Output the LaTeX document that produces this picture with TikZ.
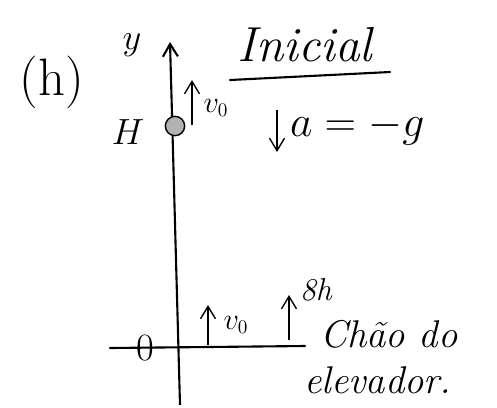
\documentclass[tikz,border=0pt]{standalone}
\usepackage{tikz}
\usetikzlibrary{arrows.meta,positioning,shapes.geometric}

\begin{document}
\begin{tikzpicture}[
  x=0.02cm,y=-0.02cm,
  hand/.style={font=\fontsize{20}{22}\selectfont\itshape,inner sep=1pt},
  big/.style={font=\fontsize{28}{30}\selectfont\itshape,inner sep=1pt},
  arrow/.style={-{Straight Barb[length=2.5mm,width=3mm]},thick},
  line/.style={thick,line cap=round}
]
\useasboundingbox (0,0) rectangle (497,407);
% axes
\coordinate (ybot) at (180,405);
\coordinate (ytop) at (170,42);
\draw[arrow,line width=1.2pt] (ybot)--(ytop);
\coordinate (xleft) at (110,348);
\coordinate (xright) at (305,346);
\draw[line,line width=1.2pt] (xleft)--(xright);
\node[hand,font=\fontsize{22}{22}\selectfont] (orig) at (145,348) {0};
\node[hand] (ylab) at (132,45) {$y$};
\node[big,font=\fontsize{30}{32}\selectfont] (part) at (52,82) {(h)};
% ball at height H
\node[circle,draw,thick,fill=gray!60,minimum size=11pt,inner sep=0pt] (ball) at (175,126) {};
\node[hand] (hlab) at (128,132) {$H$};
\coordinate (vup1s) at (192,125);
\coordinate (vup1e) at (192,80);
\draw[arrow] (vup1s)--(vup1e);
\node[hand,font=\fontsize{16}{18}\selectfont] (vtop) at (216,108) {$v_0$};
% title
\node[big] (title) at (305,45) {Inicial};
\coordinate (ulleft) at (230,80);
\coordinate (ulright) at (390,72);
\draw[line,line width=1.2pt] (ulleft)--(ulright);
% acceleration
\coordinate (accs) at (277,110);
\coordinate (acce) at (277,152);
\draw[arrow] (accs)--(acce);
\node[hand,font=\fontsize{24}{24}\selectfont,anchor=west] (acc) at (288,128) {$a=-g$};
% floor
\coordinate (vup2s) at (208,345);
\coordinate (vup2e) at (208,305);
\draw[arrow] (vup2s)--(vup2e);
\node[hand,font=\fontsize{16}{18}\selectfont] (vbot) at (236,325) {$v_0$};
\coordinate (hups) at (289,340);
\coordinate (hupe) at (289,295);
\draw[arrow] (hups)--(hupe);
\node[hand,font=\fontsize{18}{20}\selectfont\itshape,anchor=west] (dh) at (298,290) {8h};
\node[hand,font=\fontsize{22}{24}\selectfont\itshape,anchor=west] (floor1) at (318,334) {Chão do};
\node[hand,font=\fontsize{22}{24}\selectfont\itshape,anchor=west] (floor2) at (302,380) {elevador.};
\end{tikzpicture}
\end{document}
